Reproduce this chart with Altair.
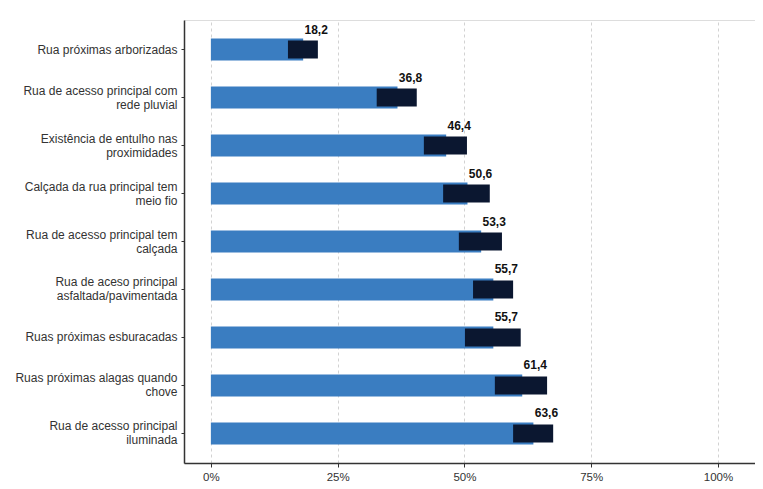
import altair as alt
import pandas as pd

categories = [
    "Rua próximas arborizadas",
    "Rua de acesso principal com|rede pluvial",
    "Existência de entulho nas|proximidades",
    "Calçada da rua principal tem|meio fio",
    "Rua de acesso principal tem|calçada",
    "Rua de aceso principal|asfaltada/pavimentada",
    "Ruas próximas esburacadas",
    "Ruas próximas alagas quando|chove",
    "Rua de acesso principal|iluminada",
]
values = [18.2, 36.8, 46.4, 50.6, 53.3, 55.7, 55.7, 61.4, 63.6]
ci_low = [15.2, 32.7, 42.0, 45.8, 48.9, 51.7, 50.1, 56.0, 59.6]
ci_high = [21.1, 40.6, 50.5, 55.0, 57.4, 59.6, 61.1, 66.3, 67.5]
ticks = [0, 25, 50, 75, 100]

df = pd.DataFrame({"cat": categories, "v": values, "lo": ci_low, "hi": ci_high})

FONT = "Liberation Sans"

xscale = alt.Scale(domain=[-5.3, 107.3], nice=False, zero=False)
yscale = alt.Scale(domain=categories, paddingInner=0.54, paddingOuter=0.385)

x_axis = alt.Axis(
    values=ticks, labelExpr="datum.value + '%'", title=None,
    grid=True, gridDash=[3, 3], gridColor="#d2d2d2", gridWidth=1,
    domainColor="#333333", domainWidth=1.5, tickColor="#333333", tickSize=4,
    labelFont=FONT, labelFontSize=11.5, labelColor="#333333", labelPadding=4,
)
y_axis = alt.Axis(
    title=None, labelExpr="split(datum.label, '|')", labelLineHeight=14,
    labelOffset=alt.ExprRef("indexof(datum.label, '|') >= 0 ? -7 : 0"),
    domainColor="#333333", domainWidth=1.5, tickColor="#333333", tickSize=3,
    labelFont=FONT, labelFontSize=12, labelColor="#333333", labelPadding=4,
    labelLimit=300, grid=False,
)

base = alt.Chart(df)

bars = base.mark_bar(color="#3a7dc1", size=22).encode(
    y=alt.Y("cat:N", scale=yscale, axis=y_axis, sort=categories),
    x=alt.X("zero:Q", scale=xscale, axis=x_axis),
    x2="v:Q",
).transform_calculate(zero="0")

ci = base.mark_bar(color="#0b1730", size=18).encode(
    y=alt.Y("cat:N", scale=yscale, sort=categories),
    x=alt.X("lo:Q", scale=xscale),
    x2="hi:Q",
)

labels = base.transform_calculate(
    lab="replace(format(datum.v, '.1f'), '.', ',')"
).mark_text(
    font=FONT, fontSize=12, fontWeight="bold", color="#111111",
    align="center", baseline="bottom", dx=13, dy=-13,
).encode(
    y=alt.Y("cat:N", scale=yscale, sort=categories),
    x=alt.X("v:Q", scale=xscale),
    text="lab:N",
)

chart = alt.layer(bars, ci, labels).properties(
    width=571, height=443,
    autosize=alt.AutoSizeParams(type="none"),
    padding={"left": 176, "top": 12, "right": 0, "bottom": 18},
).configure_view(stroke=None).configure(background="white")

chart.save("out.html", embed_options={"renderer": "svg", "actions": False})
